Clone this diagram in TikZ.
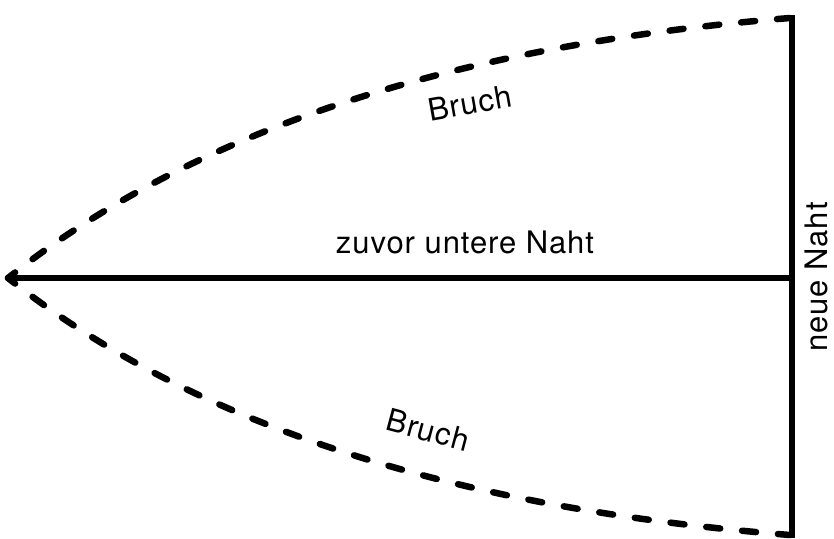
\documentclass[tikz,border=0pt]{standalone}
\usepackage{fontspec}
\setmainfont[LetterSpace=3]{TeX Gyre Heros}
\usetikzlibrary{positioning}
\tikzstyle{naht} = [draw, line width=6.5pt, color=black]
\tikzstyle{bruch} = [draw, line width=6.5pt, color=black, line cap=round, dash pattern=on 14pt off 22pt, dash phase=5pt]
\tikzstyle{beschriftung} = [inner sep=0pt, font=\fontsize{31}{33}\selectfont]
\newcommand{\beschriftung}[3]{node (b#1) [beschriftung,#2] {#3}}
\begin{document}
\begin{tikzpicture}[x=1pt,y=-1pt]
\useasboundingbox (0,0) rectangle (834,538);
\coordinate (spitze) at (8,278);
\coordinate (ende) at (792,278);
\coordinate (oben) at (792,15);
\coordinate (unten) at (792,538);
\coordinate (bo) at (790,18);
\coordinate (bu) at (790,535);
\path [naht] (spitze) -- (ende);
\path [naht] (oben) -- (unten);
\path [bruch] (spitze) .. controls (212,116) and (491,42) .. (bo);
\path [bruch] (spitze) .. controls (212,440) and (491,511) .. (bu);
\path (465,242) \beschriftung{1}{}{zuvor untere Naht};
\path (470,103) \beschriftung{2}{rotate=10}{Bruch};
\path (428,430) \beschriftung{3}{rotate=-15}{Bruch};
\path (816,277) \beschriftung{4}{rotate=90}{neue Naht};
\end{tikzpicture}
\end{document}
